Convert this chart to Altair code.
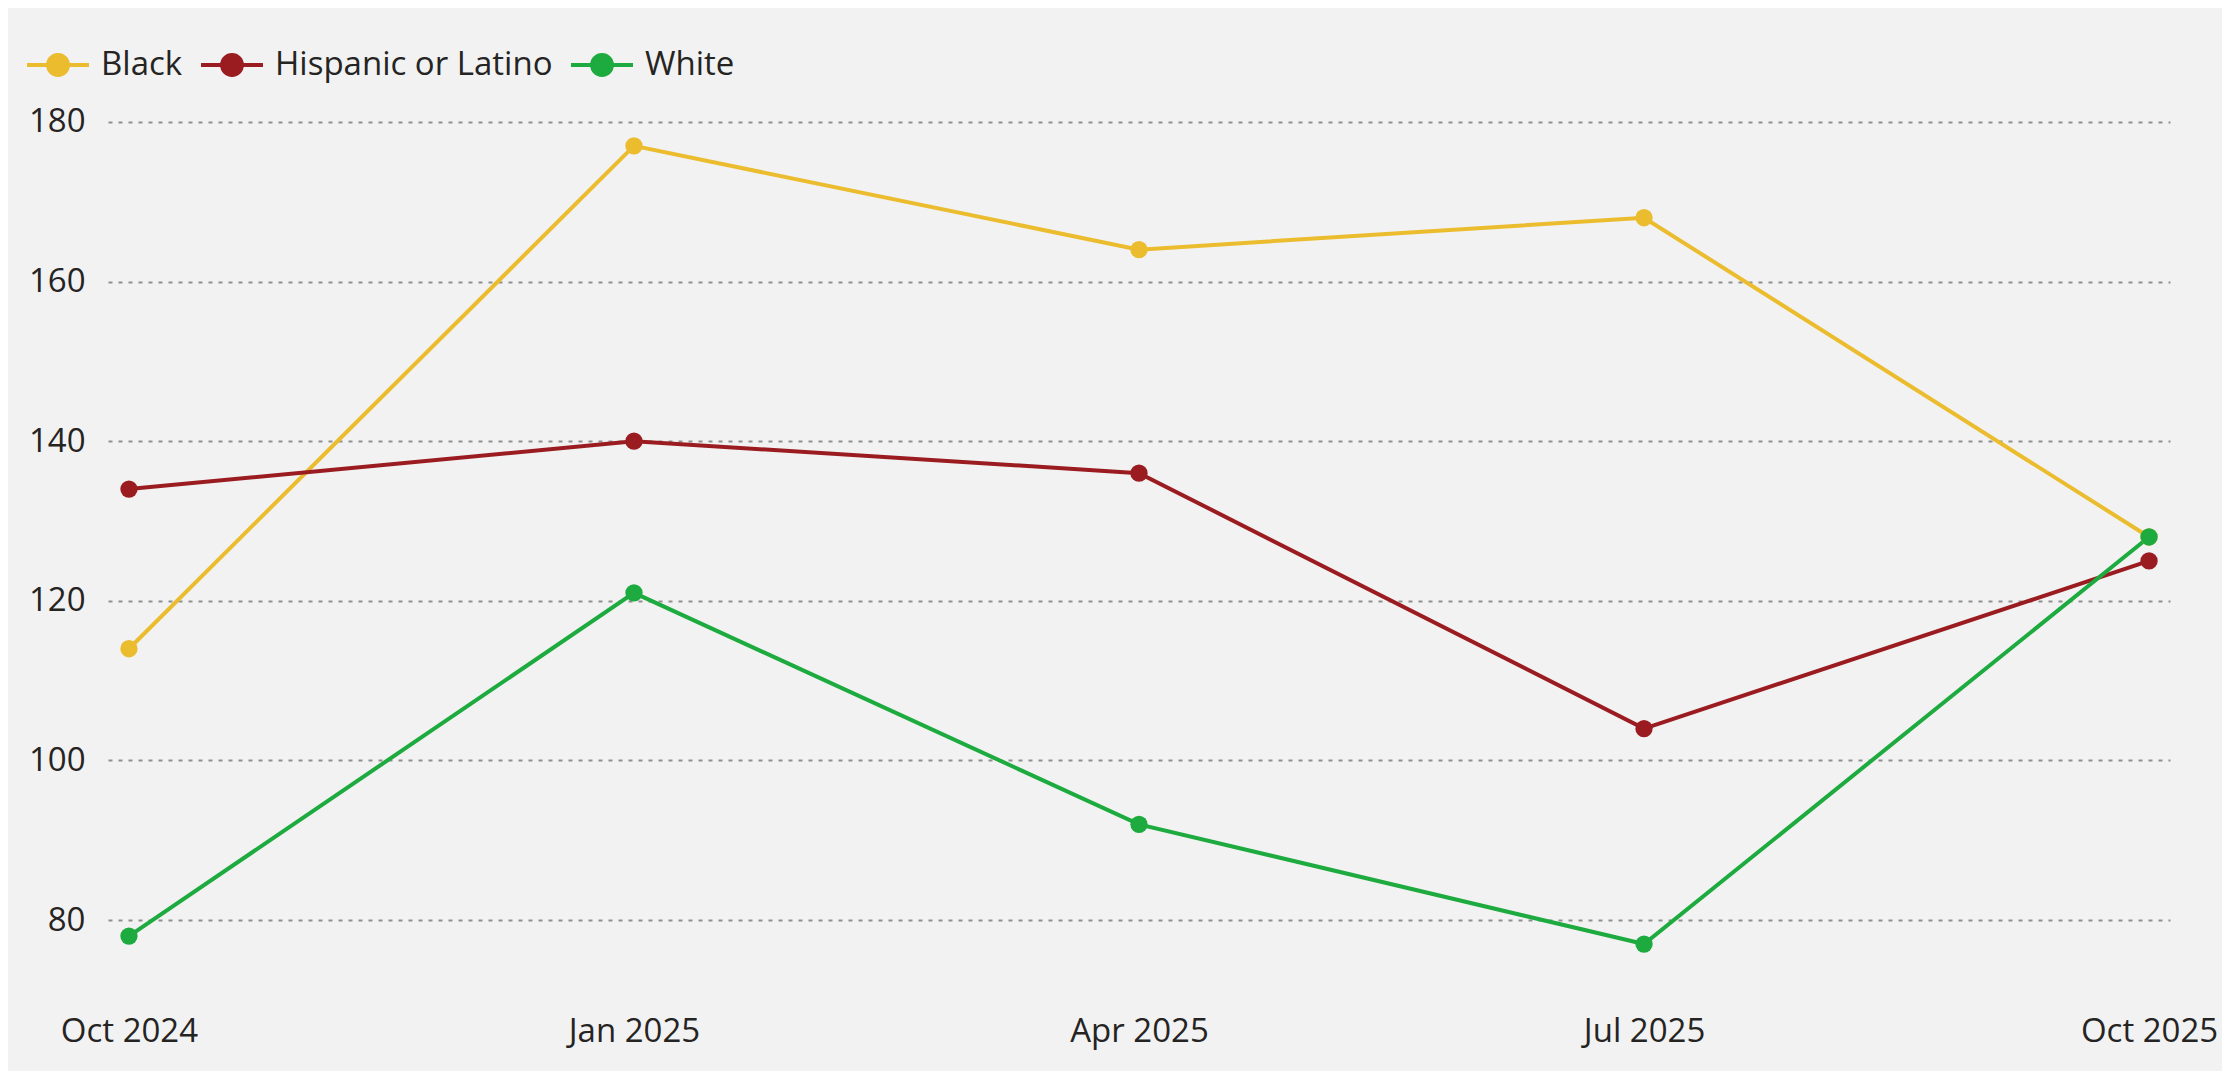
import altair as alt
import pandas as pd

months = ["Oct 2024", "Jan 2025", "Apr 2025", "Jul 2025", "Oct 2025"]
series = ["Black", "Hispanic or Latino", "White"]
black = [114, 177, 164, 168, 128]
hispanic = [134, 140, 136, 104, 125]
white = [78, 121, 92, 77, 128]
colors = ["#EBBC2E", "#9B1C20", "#1DAA3E"]

rows = []
for name, vals in zip(series, [black, hispanic, white]):
    for m, v in zip(months, vals):
        rows.append({"month": m, "group": name, "value": v})
df = pd.DataFrame(rows)

FONT = "Open Sans"
sym = "M-1,0H1M0.32,0A0.32,0.32,0,1,1,-0.32,0A0.32,0.32,0,1,1,0.32,0Z"

color = alt.Color(
    "group:N",
    scale=alt.Scale(domain=series, range=colors),
    legend=alt.Legend(
        title=None,
        orient="none",
        direction="horizontal",
        legendX=-83,
        legendY=-66,
        symbolType=sym,
        symbolSize=3844,
        symbolStrokeWidth=4,
        symbolOpacity=1,
        labelFont=FONT,
        labelFontSize=33,
        labelColor="#252423",
        labelLimit=0,
        labelOffset=10,
        columnPadding=10,
        padding=0,
        offset=0,
    ),
)

x = alt.X(
    "month:N",
    sort=months,
    scale=alt.Scale(type="point", padding=0.0415),
    axis=alt.Axis(title=None, labelAngle=0, domain=False, ticks=False, grid=False,
                  labelFont=FONT, labelFontSize=33, labelColor="#252423",
                  labelPadding=47),
)
y = alt.Y(
    "value:Q",
    scale=alt.Scale(domain=[74, 183], nice=False, zero=False),
    axis=alt.Axis(title=None, values=[80, 100, 120, 140, 160, 180], domain=False, ticks=False,
                  grid=True, gridDash=[4, 6], gridColor="#8f8f8f", gridWidth=2,
                  labelFont=FONT, labelFontSize=33, labelColor="#252423", labelPadding=23),
)

base = alt.Chart(df).encode(x=x, y=y, color=color)
lines = base.mark_line(strokeWidth=4)
points = base.mark_point(filled=True, size=300, opacity=1)

chart = (lines + points).properties(
    width=2062,
    height=870,
    background="#f2f2f2",
    autosize=alt.AutoSizeParams(type="none"),
    padding={"left": 100, "top": 90, "right": 52, "bottom": 103},
).configure_view(stroke=None)

chart.save("out.html", embed_options={"renderer": "svg", "actions": False})
